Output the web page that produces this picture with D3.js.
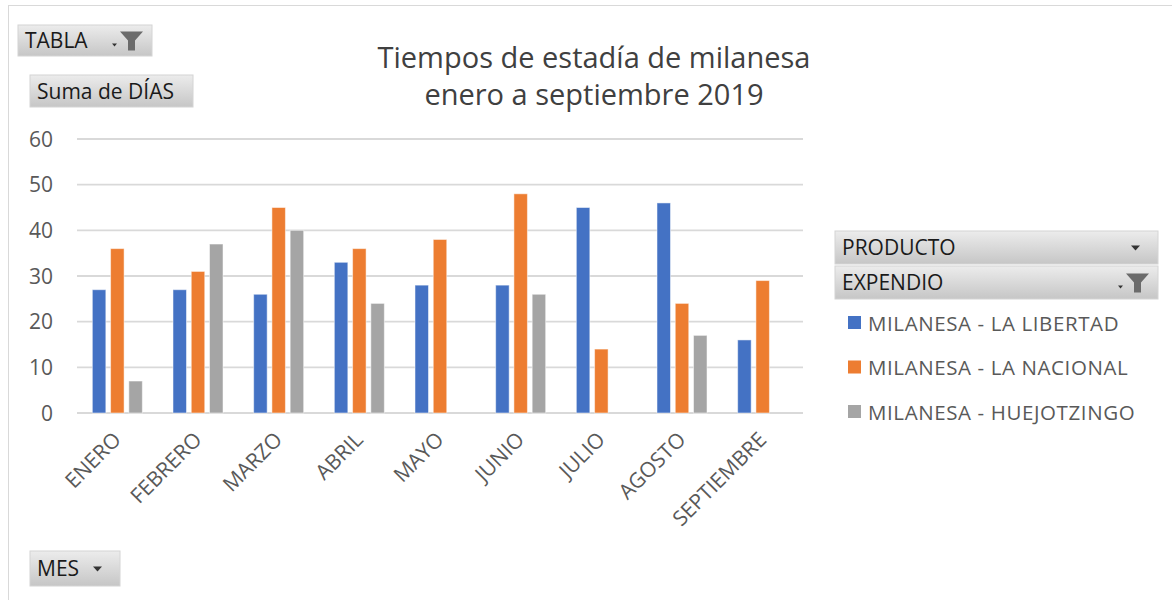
<!DOCTYPE html>
<html>
<head>
<meta charset="utf-8">
<script src="https://cdn.jsdelivr.net/npm/d3@7"></script>
<style>
  body { margin: 0; background: #fff; }
  text { font-family: "Open Sans", "Noto Sans", sans-serif; }
</style>
</head>
<body>
<svg id="chart" width="1172" height="600"></svg>
<script>
const months = ["ENERO", "FEBRERO", "MARZO", "ABRIL", "MAYO", "JUNIO", "JULIO", "AGOSTO", "SEPTIEMBRE"];
const seriesNames = ["MILANESA - LA LIBERTAD", "MILANESA - LA NACIONAL", "MILANESA - HUEJOTZINGO"];
const libertad = [27, 27, 26, 33, 28, 28, 45, 46, 16];
const nacional = [36, 31, 45, 36, 38, 48, 14, 24, 29];
const huejotzingo = [7, 37, 40, 24, null, 26, null, 17, null];
const yTicks = [0, 10, 20, 30, 40, 50, 60];
const colors = ["#4472C4", "#ED7D31", "#A5A5A5"];

const allSeries = [libertad, nacional, huejotzingo];
const rows = months.map((m, i) => ({ month: m, values: allSeries.map((s, j) => ({ key: seriesNames[j], v: s[i] })) }));

const svg = d3.select("#chart");

// outer chart border
svg.append("rect").attr("x", 8.5).attr("y", 5.5).attr("width", 1170).attr("height", 600)
  .attr("fill", "none").attr("stroke", "#d9d9d9");

const plot = { left: 77, right: 803, top: 139, bottom: 413 };

let x0 = d3.scaleBand().domain(months).range([plot.left, plot.right])
  .paddingInner(0.38).paddingOuter(0.19);
let x1 = d3.scaleBand().domain(seriesNames).range([0, x0.bandwidth()]).paddingInner(0.26);
let y = d3.scaleLinear().domain([0, 60]).range([plot.bottom, plot.top]);

// gridlines
svg.append("g").selectAll("line").data(yTicks).enter().append("line")
  .attr("x1", plot.left).attr("x2", plot.right)
  .attr("y1", d => y(d)).attr("y2", d => y(d))
  .attr("stroke", "#d9d9d9").attr("stroke-width", 1.8);

// y axis labels
svg.append("g").selectAll("text").data(yTicks).enter().append("text")
  .attr("x", 53).attr("y", d => y(d) + 7.5)
  .attr("text-anchor", "end").attr("fill", "#595959").style("font-size", "21px")
  .text(d => d);

// bars
let groups = svg.append("g").selectAll("g").data(rows).enter().append("g")
  .attr("transform", d => `translate(${x0(d.month)},0)`);
groups.selectAll("rect").data(d => d.values.filter(v => v.v != null)).enter().append("rect")
  .attr("x", d => x1(d.key))
  .attr("y", d => y(d.v))
  .attr("width", x1.bandwidth())
  .attr("height", d => y(0) - y(d.v))
  .attr("fill", d => colors[seriesNames.indexOf(d.key)])
  .attr("stroke", "#ffffff").attr("stroke-opacity", 0.5).attr("stroke-width", 1);

// x labels rotated
svg.append("g").selectAll("text").data(months).enter().append("text")
  .attr("transform", d => `translate(${x0(d) + x0.bandwidth() / 2 + 5},${441}) rotate(-45)`)
  .attr("text-anchor", "end").attr("fill", "#595959").style("font-size", "21px")
  .text(d => d);

// title
const title = svg.append("text").attr("text-anchor", "middle").attr("fill", "#404040").style("font-size", "29px");
title.append("tspan").attr("x", 594).attr("y", 68).text("Tiempos de estadía de milanesa");
title.append("tspan").attr("x", 594).attr("y", 105).text("enero a septiembre 2019");

// field buttons
let defs = svg.append("defs");
let grad = defs.append("linearGradient").attr("id", "btn").attr("x1", 0).attr("y1", 0).attr("x2", 0).attr("y2", 1);
grad.append("stop").attr("offset", "0%").attr("stop-color", "#ececec");
grad.append("stop").attr("offset", "100%").attr("stop-color", "#c6c6c6");

function button(x, yy, w, h, label, icon) {
  let g = svg.append("g").attr("transform", `translate(${x},${yy})`);
  g.append("rect").attr("width", w).attr("height", h).attr("fill", "url(#btn)")
    .attr("stroke", "#d4d4d4");
  g.append("text").attr("x", 7).attr("y", h / 2 + 7.5).attr("fill", "#1a1a1a")
    .style("font-size", "21px").text(label);
  if (icon == "arrow") {
    g.append("path").attr("d", `M${w - 27},${h / 2 - 2} l9,0 l-4.5,5 z`).attr("fill", "#333");
  }
  if (icon == "filter") {
    g.append("path").attr("d", `M${w - 40},${h / 2 + 3} l5,0 l-2.5,3 z`).attr("fill", "#333");
    g.append("path").attr("d", `M${w - 32},${h / 2 - 9} l23,0 l-8,9 l0,10 l-7,0 l0,-10 z`).attr("fill", "#6b6b6b");
  }
}
button(18, 25, 134, 31, "TABLA", "filter");
button(30, 75, 163, 32, "Suma de DÍAS", null);
button(30, 551, 90, 35, "MES", "arrow");
button(835, 231, 323, 33, "PRODUCTO", "arrow");
button(835, 266, 323, 33, "EXPENDIO", "filter");

// legend
let legend = svg.append("g").selectAll("g").data(seriesNames).enter().append("g")
  .attr("transform", (d, i) => `translate(848,${323 + i * 44.5})`);
legend.append("rect").attr("x", 0).attr("y", -7).attr("width", 13).attr("height", 13)
  .attr("fill", (d, i) => colors[i]);
legend.append("text").attr("x", 20).attr("y", 7.5).attr("fill", "#595959")
  .style("font-size", "20.5px").style("letter-spacing", "0.6px").text(d => d);
</script>
</body>
</html>
